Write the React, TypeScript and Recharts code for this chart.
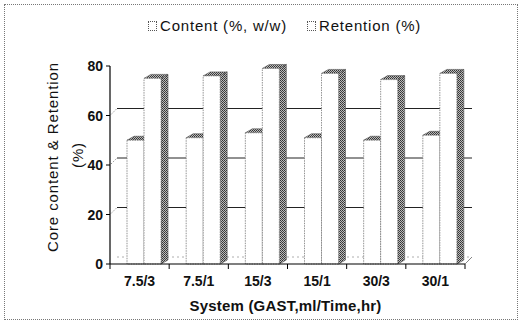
import React from 'react';
import { BarChart, Bar, XAxis, YAxis, CartesianGrid } from 'recharts';

const categories = ['7.5/3', '7.5/1', '15/3', '15/1', '30/3', '30/1'];
const contentValues = [50, 51, 53, 51, 50, 52];
const retentionValues = [75, 76, 79, 77, 74.5, 77];
const yTicks = [0, 20, 40, 60, 80];
const seriesNames = ['Content (%, w/w)', 'Retention (%)'];
const xLabel = 'System (GAST,ml/Time,hr)';
const yLabelLines = ['Core content & Retention', '(%)'];

const data = categories.map((c, i) => ({
  name: c,
  content: contentValues[i],
  retention: retentionValues[i],
}));

const FONT = '"Liberation Sans", Arial, sans-serif';
const DX = 7;
const DY = 4;
const SHIFT = 4;

const makeBar3D = (sideFill: string, topFill: string) => (props: any) => {
  const { x, y, width, height } = props;
  if (width == null || height == null) return null;
  const X = x + SHIFT;
  const w = width;
  const h = height;
  return (
    <g>
      <polygon
        points={`${X + w},${y} ${X + w + DX},${y - DY} ${X + w + DX},${y + h - DY} ${X + w},${y + h}`}
        fill={sideFill}
        stroke="#555"
        strokeWidth={0.6}
      />
      <polygon
        points={`${X},${y} ${X + DX},${y - DY} ${X + w + DX},${y - DY} ${X + w},${y}`}
        fill={topFill}
        stroke="#555"
        strokeWidth={0.6}
      />
      <rect
        x={X}
        y={y}
        width={w}
        height={h}
        fill="#fff"
        stroke="#777"
        strokeWidth={0.8}
        strokeDasharray="1.5 1"
      />
    </g>
  );
};

const contentShape = makeBar3D('url(#ditherMid)', 'url(#ditherDark)');
const retentionShape = makeBar3D('url(#ditherDark)', 'url(#ditherDark)');

const HGrid = (props: any) => {
  const { x1, x2, y1, y, height } = props;
  const top = y;
  const bottom = y + height;
  if (Math.abs(y1 - top) < 1) return <g />;
  if (Math.abs(y1 - bottom) < 1) {
    return (
      <g>
        <line x1={x1 + DX} y1={y1 - DX} x2={x2 + DX} y2={y1 - DX} stroke="#999" strokeWidth={0.8} strokeDasharray="2 3" />
        <line x1={x2} y1={y1} x2={x2 + DX} y2={y1 - DX} stroke="#666" strokeWidth={0.8} />
      </g>
    );
  }
  return (
    <g>
      <line x1={x1 + 1} y1={y1 - 1} x2={x1 + DX} y2={y1 - DX} stroke="#777" strokeWidth={0.8} strokeDasharray="1.5 1.5" />
      <line x1={x1 + DX} y1={y1 - DX} x2={x2 + DX} y2={y1 - DX} stroke="#222" strokeWidth={1} />
    </g>
  );
};

const VGrid = (props: any) => {
  const { x1, y2 } = props;
  return <line x1={x1} y1={y2} x2={x1} y2={y2 + 5} stroke="#000" strokeWidth={1} />;
};

const XTick = (props: any) => {
  const { x, y, payload } = props;
  return (
    <text
      x={x}
      y={y + 22}
      textAnchor="middle"
      fontFamily={FONT}
      fontSize={14}
      fontWeight="bold"
      fill="#111"
    >
      {payload.value}
    </text>
  );
};

const YTick = (props: any) => {
  const { x, y, payload } = props;
  return (
    <text
      x={x - 1}
      y={y + 5}
      textAnchor="end"
      fontFamily={FONT}
      fontSize={14}
      fontWeight="bold"
      fill="#111"
    >
      {payload.value}
    </text>
  );
};

const YLabel = (props: any) => {
  const vb = props.viewBox || { x: 70, y: 66, width: 40, height: 198 };
  const cy = vb.y + vb.height / 2;
  const x1 = vb.x - 18;
  const x2 = vb.x + 7;
  return (
    <g fontFamily={FONT} fontSize={15} fill="#111">
      <text
        x={x1}
        y={cy - 8}
        textAnchor="middle"
        dominantBaseline="central"
        letterSpacing={0.9}
        transform={`rotate(-90 ${x1} ${cy - 8})`}
      >
        {yLabelLines[0]}
      </text>
      <text
        x={x2}
        y={cy - 10}
        textAnchor="middle"
        dominantBaseline="central"
        letterSpacing={0.9}
        transform={`rotate(-90 ${x2} ${cy - 10})`}
      >
        {yLabelLines[1]}
      </text>
    </g>
  );
};

const XLabel = (props: any) => {
  const vb = props.viewBox || { x: 110, y: 264, width: 355, height: 30 };
  return (
    <text
      x={vb.x + vb.width / 2 - 2}
      y={vb.y + 47}
      textAnchor="middle"
      fontFamily={FONT}
      fontSize={15}
      fontWeight="bold"
      letterSpacing={0.2}
      fill="#111"
    >
      {xLabel}
    </text>
  );
};

export default function App() {
  return (
    <div
      style={{
        position: 'absolute',
        left: 0,
        top: 0,
        width: 520,
        height: 326,
        background: '#fff',
        fontFamily: FONT,
      }}
    >
      <svg width={0} height={0} style={{ position: 'absolute' }}>
        <defs>
          <pattern id="ditherDark" patternUnits="userSpaceOnUse" width={2} height={2}>
            <rect width={2} height={2} fill="#bbb" />
            <rect x={0} y={0} width={1} height={1} fill="#333" />
            <rect x={1} y={1} width={1} height={1} fill="#444" />
          </pattern>
          <pattern id="ditherMid" patternUnits="userSpaceOnUse" width={2} height={2}>
            <rect width={2} height={2} fill="#ddd" />
            <rect x={0} y={0} width={1} height={1} fill="#777" />
          </pattern>
        </defs>
      </svg>
      <div
        style={{
          position: 'absolute',
          left: 4,
          top: 4,
          width: 514,
          height: 316,
          border: '1px dotted #777',
          boxSizing: 'border-box',
        }}
      />
      <div
        style={{
          position: 'absolute',
          top: 17,
          left: 148,
          display: 'flex',
          alignItems: 'center',
          fontSize: 15,
          letterSpacing: 0.8,
          color: '#111',
          whiteSpace: 'nowrap',
        }}
      >
        {seriesNames.map((n, i) => (
          <div key={n} style={{ display: 'flex', alignItems: 'center', marginRight: i === 0 ? 20 : 0 }}>
            <span
              style={{
                display: 'inline-block',
                width: 7,
                height: 8,
                border: '1px dotted #555',
                marginRight: 3,
                background: '#fff',
              }}
            />
            <span>{n}</span>
          </div>
        ))}
      </div>
      <div style={{ position: 'absolute', left: 0, top: 0 }}>
        <BarChart
          width={520}
          height={326}
          data={data}
          margin={{ top: 66, right: 55, bottom: 32, left: 70 }}
          barGap={0}
          barSize={17}
        >
          <CartesianGrid
            vertical={VGrid}
            horizontal={HGrid}
            verticalCoordinatesGenerator={({ offset }: any) =>
              categories.map((_, i) => offset.left + (offset.width * i) / categories.length).concat([offset.left + offset.width])
            }
          />
          <XAxis
            dataKey="name"
            height={30}
            tickLine={false}
            tickSize={0}
            tickMargin={0}
            axisLine={{ stroke: '#000', strokeWidth: 1.2 }}
            tick={XTick}
            interval={0}
            label={<XLabel />}
          />
          <YAxis
            domain={[0, 80]}
            ticks={yTicks}
            width={40}
            tickSize={4}
            tickMargin={2}
            tickLine={{ stroke: '#000' }}
            axisLine={{ stroke: '#000', strokeWidth: 1.2 }}
            tick={YTick}
            label={<YLabel />}
            interval={0}
          />
          <Bar dataKey="content" name={seriesNames[0]} shape={contentShape} isAnimationActive={false} />
          <Bar dataKey="retention" name={seriesNames[1]} shape={retentionShape} isAnimationActive={false} />
        </BarChart>
      </div>
    </div>
  );
}
